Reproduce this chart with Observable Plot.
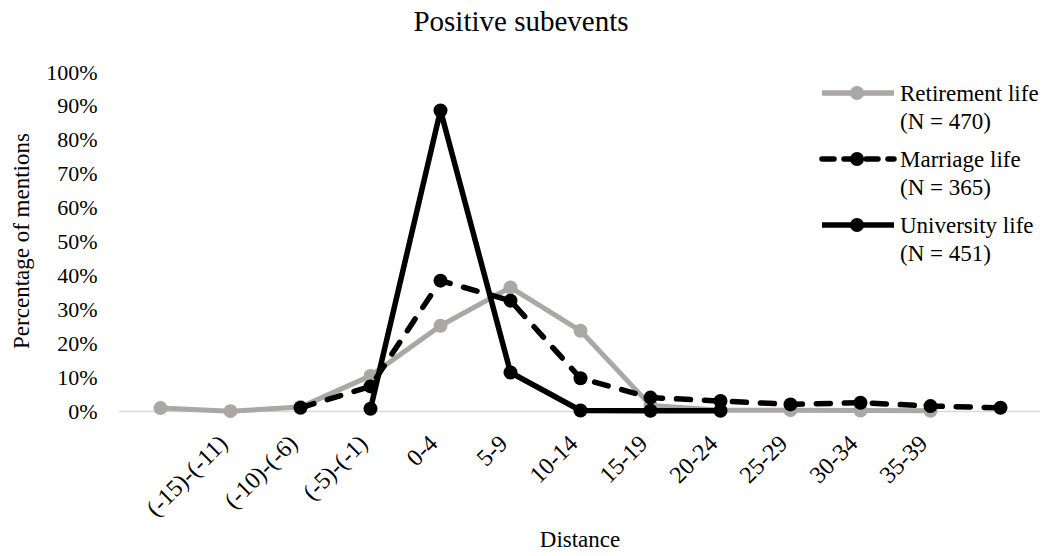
<!DOCTYPE html>
<html><head><meta charset="utf-8">
<script src="https://cdn.jsdelivr.net/npm/d3@7"></script>
<script src="https://cdn.jsdelivr.net/npm/@observablehq/plot@0.6"></script>
<style>
body{margin:0;background:#fff;}
#wrap{position:relative;width:1051px;height:556px;font-family:"Liberation Serif","Times New Roman",serif;color:#000;overflow:hidden;}
#chart{position:absolute;left:0;top:0;}
.abs{position:absolute;white-space:nowrap;}
#title{left:321px;width:400px;top:5px;text-align:center;font-size:29px;line-height:32px;}
#xtitle{left:480px;width:200px;top:527px;text-align:center;font-size:23px;line-height:26px;}
#ytitle{left:22px;top:241px;font-size:23px;line-height:26px;transform:translate(-50%,-50%) rotate(-90deg);}
#legend{left:818px;top:70px;}
.item{position:relative;height:66px;}
.item svg{position:absolute;left:0;top:0;}
.item .txt{position:absolute;left:82px;top:10px;font-size:23px;line-height:28px;}
</style></head>
<body><div id="wrap">
<div id="chart"></div>
<div id="title" class="abs">Positive subevents</div>
<div id="xtitle" class="abs">Distance</div>
<div id="ytitle" class="abs">Percentage of mentions</div>
<div id="legend" class="abs"></div>
</div>
<script>
const categories = ["-20","-15","-10","-5","0","5","10","15","20","25","30","35","40"];
const tickLabels = ["","(-15)-(-11)","(-10)-(-6)","(-5)-(-1)","0-4","5-9","10-14","15-19","20-24","25-29","30-34","35-39",""];
const yTicks = [0,10,20,30,40,50,60,70,80,90,100];
const retirement = [1.0,0.1,1.3,10.5,25.3,36.6,23.8,1.8,0.4,0.4,0.3,0.2,null];
const marriage   = [null,null,1.1,7.4,38.6,32.7,9.8,4.1,3.1,2.1,2.6,1.6,1.1];
const university = [null,null,null,0.8,88.8,11.5,0.3,0.2,0.2,null,null,null,null];
const seriesNames = ["Retirement life","Marriage life","University life"];
const seriesN = ["(N = 470)","(N = 365)","(N = 451)"];

const gray = "#aaa7a6";
const toRows = (vals, name) => vals.map((v,i)=>({cat:categories[i], v, name})).filter(d=>d.v!=null);
const rRows = toRows(retirement, seriesNames[0]);
const mRows = toRows(marriage, seriesNames[1]);
const uRows = toRows(university, seriesNames[2]);

const plot = Plot.plot({
  width:1051, height:556,
  marginLeft:119, marginRight:11, marginTop:72, marginBottom:145,
  style:{fontFamily:"'Liberation Serif','Times New Roman',serif", fontSize:"22px", color:"#000", background:"transparent", overflow:"visible"},
  x:{type:"point", domain:categories, padding:0.5},
  y:{domain:[0,100]},
  marks:[
    Plot.ruleY([0],{stroke:"#d9d9d9", strokeWidth:1.5}),
    Plot.axisY({ticks:yTicks, tickFormat:d=>d+"%", tickSize:0, tickPadding:22, label:null, fontSize:22}),
    Plot.axisX({tickFormat:d=>tickLabels[categories.indexOf(d)], tickRotate:-45, tickSize:0, tickPadding:22, label:null, fontSize:24, dx:-7, dy:6}),
    Plot.line(rRows,{x:"cat", y:"v", stroke:gray, strokeWidth:5}),
    Plot.dot(rRows,{x:"cat", y:"v", r:7, fill:gray}),
    Plot.line(mRows,{x:"cat", y:"v", stroke:"#000", strokeWidth:5.5, strokeDasharray:"14,14", strokeLinecap:"round"}),
    Plot.dot(mRows,{x:"cat", y:"v", r:7, fill:"#000"}),
    Plot.line(uRows,{x:"cat", y:"v", stroke:"#000", strokeWidth:5.5}),
    Plot.dot(uRows,{x:"cat", y:"v", r:7, fill:"#000"})
  ]
});
document.getElementById("chart").appendChild(plot);

const styles = [
  {stroke:gray, dash:null},
  {stroke:"#000", dash:"12,10"},
  {stroke:"#000", dash:null}
];
const legend = document.getElementById("legend");
seriesNames.forEach((n,i)=>{
  const s = styles[i];
  const item = document.createElement("div");
  item.className = "item";
  item.innerHTML = `<svg width="80" height="46"><line x1="4" x2="76" y1="23" y2="23" stroke="${s.stroke}" stroke-width="5.5" ${s.dash?`stroke-dasharray="${s.dash}" stroke-linecap="round"`:""}/><circle cx="39" cy="23" r="7" fill="${s.stroke}"/></svg><div class="txt">${n}<br>${seriesN[i]}</div>`;
  legend.appendChild(item);
});
</script>
</body></html>
